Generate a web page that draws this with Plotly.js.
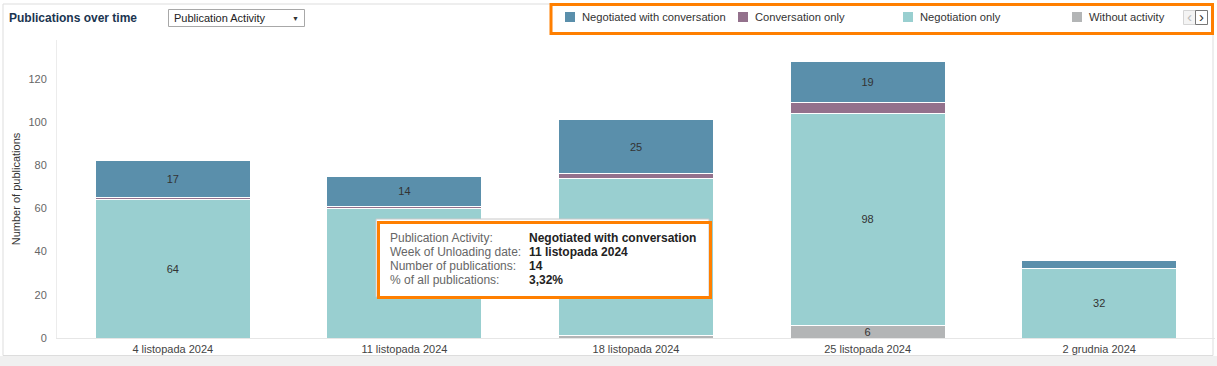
<!DOCTYPE html>
<html>
<head>
<meta charset="utf-8">
<script src="https://cdn.plot.ly/plotly-3.0.1.min.js"></script>
<style>
  html, body { margin: 0; padding: 0; background: #ffffff; }
  #chart { width: 1217px; height: 366px; }
</style>
</head>
<body>
<div id="chart"></div>
<script>
// ---- data ----
const weeks = ['4 listopada 2024', '11 listopada 2024', '18 listopada 2024', '25 listopada 2024', '2 grudnia 2024'];
const withoutActivity = [0, 0, 1, 6, 0];
const negotiationOnly = [64, 60, 73, 98, 32];
const conversationOnly = [1, 1, 2, 5, 0];
const negotiatedWithConversation = [17, 14, 25, 19, 4];
const seriesNames = ['Negotiated with conversation', 'Conversation only', 'Negotiation only', 'Without activity'];
const yTicks = [0, 20, 40, 60, 80, 100, 120];
const tooltipLabels = ['Publication Activity:', 'Week of Unloading date:', 'Number of publications:', '% of all publications:'];
// labels of "Negotiation only" that sit under the open tooltip (not visible in the view)
const coveredByTooltip = [false, true, true, false, false];

// ---- styles ----
const colors = {
  'Negotiated with conversation': '#5a8fab',
  'Conversation only': '#93718c',
  'Negotiation only': '#99cfd0',
  'Without activity': '#b3b5b6'
};
const FONT = 'Arial, "Liberation Sans", sans-serif';
const W = 1217, H = 366, L = 57, R = 2, T = 40, Bm = 28;
const PW = W - L - R, PH = H - T - Bm, BASE = H - Bm;
const px = x => (x - L) / PW;
const py = y => (BASE - y) / PH;

const labelOf = (v, hide) => v.map((n, i) => (n >= 6 && !(hide && hide[i]) ? String(n) : ''));

function barTrace(name, vals, hide) {
  return {
    type: 'bar', name: name, x: weeks, y: vals,
    marker: { color: colors[name], line: { color: '#ffffff', width: 1 } },
    text: labelOf(vals, hide), textposition: 'inside', insidetextanchor: 'middle', textangle: 0,
    textfont: { family: FONT, size: 11, color: '#333333' },
    hoverinfo: 'x+y+name', showlegend: false
  };
}

const data = [
  barTrace('Without activity', withoutActivity),
  barTrace('Negotiation only', negotiationOnly, coveredByTooltip),
  barTrace('Conversation only', conversationOnly),
  barTrace('Negotiated with conversation', negotiatedWithConversation)
];

// tooltip content derived from data
const total = [withoutActivity, negotiationOnly, conversationOnly, negotiatedWithConversation]
  .reduce((s, arr) => s + arr.reduce((a, b) => a + b, 0), 0);
const tipIdx = 1;
const tipVal = negotiatedWithConversation[tipIdx];
const tipValues = [
  seriesNames[0],
  weeks[tipIdx],
  String(tipVal),
  (tipVal / total * 100).toFixed(2).replace('.', ',') + '%'
];

const shapes = [];
const annotations = [];

// outer frame and bottom band
shapes.push({ type: 'rect', xref: 'paper', yref: 'paper', x0: px(-2), x1: px(W + 2), y0: py(356), y1: py(H + 2),
  fillcolor: '#f0f0f0', line: { width: 0 }, layer: 'below' });
shapes.push({ type: 'rect', xref: 'paper', yref: 'paper', x0: px(3), x1: px(1213), y0: py(4), y1: py(355.5),
  fillcolor: 'rgba(0,0,0,0)', line: { color: '#dddddd', width: 1 }, layer: 'below' });

// title
annotations.push({ xref: 'paper', yref: 'paper', x: px(7), y: py(18), xanchor: 'left', yanchor: 'middle',
  text: '<b>Publications over time</b>', showarrow: false, font: { family: FONT, size: 12, color: '#1b3550' } });

// dropdown
shapes.push({ type: 'rect', xref: 'paper', yref: 'paper', x0: px(168.5), x1: px(304.5), y0: py(9.5), y1: py(26.5),
  fillcolor: '#ffffff', line: { color: '#a8a8a8', width: 1 }, layer: 'above' });
annotations.push({ xref: 'paper', yref: 'paper', x: px(172), y: py(18), xanchor: 'left', yanchor: 'middle',
  text: 'Publication Activity', showarrow: false, font: { family: FONT, size: 11, color: '#222222' } });
annotations.push({ xref: 'paper', yref: 'paper', x: px(295), y: py(18), xanchor: 'center', yanchor: 'middle',
  text: '▼', showarrow: false, font: { family: FONT, size: 7, color: '#333333' } });

// legend
const legendSq = [565, 738, 903, 1072];
seriesNames.forEach((nm, i) => {
  shapes.push({ type: 'rect', xref: 'paper', yref: 'paper', x0: px(legendSq[i]), x1: px(legendSq[i] + 10),
    y0: py(12), y1: py(22), fillcolor: colors[nm], line: { width: 0 }, layer: 'above' });
  annotations.push({ xref: 'paper', yref: 'paper', x: px(legendSq[i] + 15), y: py(17), xanchor: 'left', yanchor: 'middle',
    text: nm, showarrow: false, font: { family: FONT, size: 11.2, color: '#333333' } });
});
// legend arrows
shapes.push({ type: 'rect', xref: 'paper', yref: 'paper', x0: px(1183.5), x1: px(1195.5), y0: py(10.5), y1: py(24.5),
  fillcolor: '#f4f4f4', line: { color: '#d5d5d5', width: 1 }, layer: 'above' });
shapes.push({ type: 'rect', xref: 'paper', yref: 'paper', x0: px(1195.5), x1: px(1207.5), y0: py(10.5), y1: py(24.5),
  fillcolor: '#ffffff', line: { color: '#777777', width: 1 }, layer: 'above' });
annotations.push({ xref: 'paper', yref: 'paper', x: px(1189.5), y: py(17), xanchor: 'center', yanchor: 'middle',
  text: '‹', showarrow: false, font: { family: FONT, size: 15, color: '#bbbbbb' } });
annotations.push({ xref: 'paper', yref: 'paper', x: px(1201.5), y: py(17), xanchor: 'center', yanchor: 'middle',
  text: '›', showarrow: false, font: { family: FONT, size: 15, color: '#333333' } });
// orange highlight on legend
shapes.push({ type: 'rect', xref: 'paper', yref: 'paper', x0: px(551), x1: px(1212.5), y0: py(4.5), y1: py(33.5),
  fillcolor: 'rgba(0,0,0,0)', line: { color: '#ff7f00', width: 3 }, layer: 'above' });

// tooltip
shapes.push({ type: 'rect', xref: 'paper', yref: 'paper', x0: px(376), x1: px(709), y0: py(219), y1: py(297),
  fillcolor: '#ffffff', line: { color: '#c8c8c8', width: 1 }, layer: 'above' });
shapes.push({ type: 'rect', xref: 'paper', yref: 'paper', x0: px(378.5), x1: px(710.5), y0: py(222.5), y1: py(297.5),
  fillcolor: 'rgba(0,0,0,0)', line: { color: '#ff7f00', width: 3 }, layer: 'above' });
const tipY = [238, 252, 266, 280];
tooltipLabels.forEach((lb, i) => {
  annotations.push({ xref: 'paper', yref: 'paper', x: px(388), y: py(tipY[i]), xanchor: 'left', yanchor: 'middle',
    text: lb, showarrow: false, font: { family: FONT, size: 12, color: '#666666' } });
  annotations.push({ xref: 'paper', yref: 'paper', x: px(527), y: py(tipY[i]), xanchor: 'left', yanchor: 'middle',
    text: '<b>' + tipValues[i] + '</b>', showarrow: false, font: { family: FONT, size: 12, color: '#222222' } });
});

const layout = {
  width: W, height: H,
  margin: { l: L, r: R, t: T, b: Bm, pad: 0 },
  paper_bgcolor: '#ffffff', plot_bgcolor: '#ffffff',
  barmode: 'stack', bargap: 0.33,
  showlegend: false,
  uniformtext: { mode: 'show', minsize: 11 },
  font: { family: FONT, size: 11, color: '#333333' },
  xaxis: {
    type: 'category', showgrid: false, zeroline: false,
    showline: true, linecolor: '#e6e6e6', linewidth: 1,
    ticks: '', ticklabelstandoff: 1,
    tickfont: { family: FONT, size: 11, color: '#444444' },
    automargin: false
  },
  yaxis: {
    range: [0, PH / 2.16], tickvals: yTicks, showgrid: false, zeroline: false,
    showline: true, linecolor: '#ececec', linewidth: 1,
    ticks: '', ticklabelstandoff: 7,
    tickfont: { family: FONT, size: 11, color: '#666666' },
    title: { text: 'Number of publications', standoff: 5, font: { family: FONT, size: 11, color: '#333333' } },
    automargin: false
  },
  shapes: shapes,
  annotations: annotations
};

Plotly.newPlot('chart', data, layout, { displayModeBar: false, responsive: false, staticPlot: false });
</script>
</body>
</html>
